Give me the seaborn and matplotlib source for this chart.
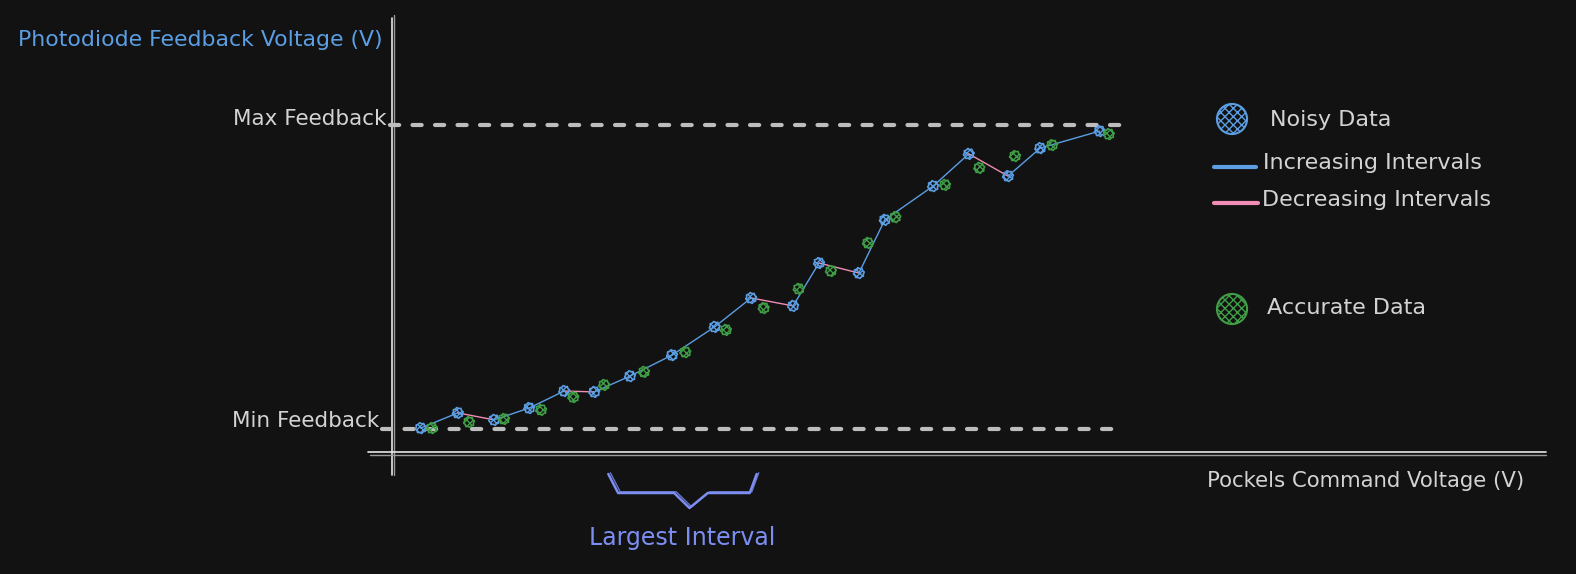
import numpy as np
import matplotlib.pyplot as plt
import seaborn as sns

# noisy readings (blue) - command voltage vs normalised feedback (0 = min, 1 = max)
noisy_x = [4.1, 9.4, 14.6, 19.6, 24.6, 28.9, 34.0, 40.0, 46.1, 51.3,
           57.3, 61.0, 66.7, 70.4, 77.3, 82.4, 88.0, 92.6, 101.1]
noisy_y = [0.003, 0.053, 0.030, 0.069, 0.125, 0.122, 0.174, 0.243, 0.336, 0.431,
           0.405, 0.546, 0.513, 0.688, 0.799, 0.905, 0.832, 0.924, 0.980]

# accurate readings (green)
accurate_x = [5.7, 11.0, 16.0, 21.3, 25.9, 30.3, 36.0, 41.9, 47.7, 53.1,
              58.1, 62.7, 68.0, 71.9, 79.0, 83.9, 89.0, 94.3, 102.4]
accurate_y = [0.003, 0.023, 0.033, 0.063, 0.105, 0.145, 0.188, 0.253, 0.326, 0.398,
              0.461, 0.520, 0.612, 0.697, 0.803, 0.859, 0.898, 0.934, 0.970]

min_feedback = 0.0
max_feedback = 1.0

legend_labels = ["Noisy Data", "Increasing Intervals", "Decreasing Intervals", "Accurate Data"]

BG = "#121212"
TXT = "#d3d3d3"
BLUE = "#5b9ee3"
PINK = "#f08db5"
GREEN = "#3f9e46"
PURPLE = "#7c8ef2"
DASH = "#bdbdbd"

sns.set_theme(style="dark", rc={"axes.facecolor": BG, "figure.facecolor": BG})
plt.rcParams["font.family"] = ["DejaVu Sans"]

W, H = 1576, 574
fig = plt.figure(figsize=(W / 100, H / 100), dpi=100)
ax = fig.add_axes([0, 0, 1, 1])

# pixel -> data helpers (layout only)
sx, ox = 7.0, 392
sy, oy = 304.0, 429
def px(x, y):
    return (x - ox) / sx, (oy - y) / sy

x0, y1 = px(0, 0)
x1, y0 = px(W, H)
ax.set_xlim(x0, x1)
ax.set_ylim(y0, y1)
ax.axis("off")

# axes lines (slightly doubled like a sketch)
ya, yb = px(0, 475)[1], px(0, 18)[1]
ax.plot([0, 0], [ya, yb], color="#e6e6e6", lw=1.2)
ax.plot([0.35, 0.35], [ya, px(0, 15)[1]], color="#9a9a9a", lw=1.0)
xa, xb = px(368, 0)[0], px(1546, 0)[0]
ax.plot([xa, xb], [px(0, 452)[1]] * 2, color="#e6e6e6", lw=1.2)
ax.plot([xa + 0.3, xb], [px(0, 454.5)[1]] * 2, color="#9a9a9a", lw=1.0)

# min / max dashed reference lines
dash = (0, (2.2, 3.2))
ax.plot([px(390, 0)[0], px(1122, 0)[0]], [max_feedback] * 2, color=DASH, lw=3,
        linestyle=dash, dash_capstyle="round")
ax.plot([px(382, 0)[0], px(1118, 0)[0]], [min_feedback] * 2, color=DASH, lw=3,
        linestyle=dash, dash_capstyle="round")

# interval segments coloured by direction
for i in range(len(noisy_x) - 1):
    c = BLUE if noisy_y[i + 1] >= noisy_y[i] else PINK
    ax.plot(noisy_x[i:i + 2], noisy_y[i:i + 2], color=c, lw=1.0, zorder=2)

sns.scatterplot(x=noisy_x, y=noisy_y, ax=ax, marker="o", s=50, facecolor="none",
                edgecolor=BLUE, linewidth=1.2, hatch="xxxxx", zorder=3, legend=False)
sns.scatterplot(x=accurate_x, y=accurate_y, ax=ax, marker="o", s=50, facecolor="none",
                edgecolor=GREEN, linewidth=1.2, hatch="xxxxx", zorder=3, legend=False)
for coll in ax.collections:
    coll.set_sketch_params(0.6, 3, 1)

# labels
ax.text(*px(18, 40), "Photodiode Feedback Voltage (V)", color=BLUE, fontsize=15.8,
        ha="left", va="center")
ax.text(*px(386, 119), "Max Feedback", color=TXT, fontsize=15.5, ha="right", va="center")
ax.text(*px(379, 421), "Min Feedback", color=TXT, fontsize=15.5, ha="right", va="center")
ax.text(*px(1524, 481), "Pockels Command Voltage (V)", color=TXT, fontsize=15.3,
        ha="right", va="center")

# legend drawn by hand
lx = px(1232, 0)[0]
ax.scatter([lx], [px(0, 119)[1]], s=470, facecolor="none", edgecolor=BLUE, hatch="xxxx",
           linewidth=1.5)
ax.scatter([lx], [px(0, 309)[1]], s=470, facecolor="none", edgecolor=GREEN, hatch="xxxx",
           linewidth=1.5)
ax.plot([px(1214, 0)[0], px(1256, 0)[0]], [px(0, 167)[1]] * 2, color=BLUE, lw=3,
        solid_capstyle="round")
ax.plot([px(1214, 0)[0], px(1258, 0)[0]], [px(0, 203)[1]] * 2, color=PINK, lw=3,
        solid_capstyle="round")
for lbl, (tx, ty) in zip(legend_labels, [(1270, 120), (1263, 163), (1262, 200), (1267, 308)]):
    ax.text(*px(tx, ty), lbl, color=TXT, fontsize=16, ha="left", va="center")

# largest increasing run -> brace underneath the x axis
best, start, run_s = 0, 0, 0
for i in range(1, len(noisy_y)):
    if noisy_y[i] < noisy_y[i - 1]:
        run_s = i
    if i - run_s > best:
        best, start = i - run_s, run_s
a, b = noisy_x[start] + 2.0, noisy_x[start + best] + 0.8
m = (a + b) / 2 + 1
top, mid, low = px(0, 474)[1], px(0, 493)[1], px(0, 508)[1]
bx = [a, a + 1.4, m - 2.2, m, m + 2.6, b - 1.0, b]
by = [top, mid, mid, low, mid, mid, top]
ax.plot(bx, by, color=PURPLE, lw=1.8)
ax.plot(np.array(bx) + 0.3, np.array(by) + 0.004, color=PURPLE, lw=1.0, alpha=0.8)
ax.text((a + b) / 2, px(0, 538)[1], "Largest Interval", color=PURPLE, fontsize=17,
        ha="center", va="center")

fig.savefig("out.png", dpi=100, facecolor=BG)
